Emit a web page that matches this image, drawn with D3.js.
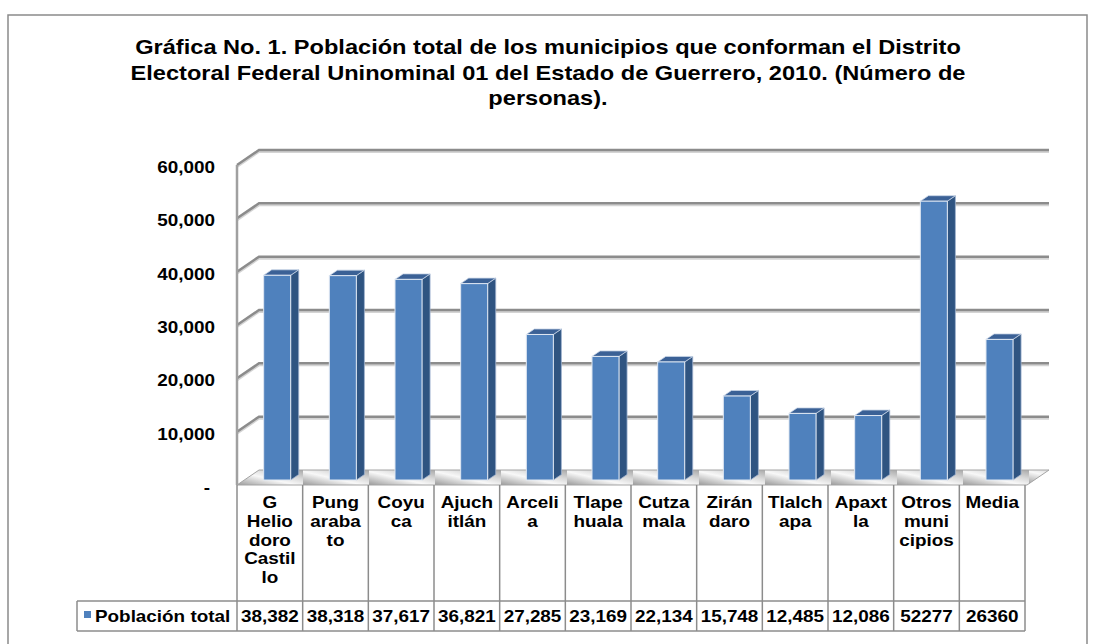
<!DOCTYPE html>
<html><head><meta charset="utf-8">
<script src="https://cdn.jsdelivr.net/npm/d3@7"></script>
<style>body{margin:0;background:#fff}svg{display:block}text{font-family:"Liberation Sans",Arial,sans-serif;font-weight:bold;fill:#000}</style>
</head><body>
<svg id="c" width="1093" height="644"></svg>
<script>
const titleLines = ["Gráfica No. 1. Población total de los municipios que conforman el Distrito",
  "Electoral Federal Uninominal 01 del Estado de Guerrero, 2010. (Número de",
  "personas)."];
const categories = [["G","Helio","doro","Castil","lo"],["Pung","araba","to"],["Coyu","ca"],["Ajuch","itlán"],
  ["Arceli","a"],["Tlape","huala"],["Cutza","mala"],["Zirán","daro"],["Tlalch","apa"],["Apaxt","la"],
  ["Otros","muni","cipios"],["Media"]];
const values = [38382,38318,37617,36821,27285,23169,22134,15748,12485,12086,52277,26360];
const valueLabels = ["38,382","38,318","37,617","36,821","27,285","23,169","22,134","15,748","12,485","12,086","52277","26360"];
const seriesName = "Población total";
const yTicks = [0,10000,20000,30000,40000,50000,60000];
const yTickLabels = ["-","10,000","20,000","30,000","40,000","50,000","60,000"];

const SX = 1.18; // horizontal stretch of the reference's text
const svg = d3.select("#c");
const DX = 22, DY = 15; // depth of the 3D wall (back -> front)
const x = d3.scaleBand().domain(d3.range(categories.length)).range([237,1025]).paddingInner(0).paddingOuter(0);
const y = d3.scaleLinear().domain([0,60000]).range([470,150]);
const bw = x.bandwidth();
const tr = (px,py)=>`translate(${px},${py}) scale(${SX},1)`;

// outer frame
svg.append("rect").attr("x",8).attr("y",15).attr("width",1079).attr("height",640)
  .attr("fill","none").attr("stroke","#8a8a8a").attr("stroke-width",1.5);

// title
svg.append("g").selectAll("text").data(titleLines).join("text")
  .attr("transform",(d,i)=>tr(548,54+i*25.5)).attr("text-anchor","middle")
  .style("font-size","20px").text(d=>d);

const defs = svg.append("defs");
const fp = defs.append("pattern").attr("id","floorpat").attr("patternUnits","userSpaceOnUse").attr("width",66).attr("height",15).attr("x",237).attr("y",470);
fp.append("rect").attr("width",66).attr("height",15).attr("fill","#c4c4c4");
const sg = defs.append("linearGradient").attr("id","streak").attr("x1","0").attr("y1","1").attr("x2","1").attr("y2","0");
[["0","#9a9a9a"],["0.45","#f8f8f8"],["0.7","#d8d8d8"],["1","#a8a8a8"]].forEach(s=>sg.append("stop").attr("offset",s[0]).attr("stop-color",s[1]));
fp.append("rect").attr("width",66).attr("height",15).attr("fill","url(#streak)");

// gridlines (back wall + left side wall)
const grid = svg.append("g");
const gl = yTicks.filter(v=>v>0);
grid.selectAll("path.sh").data(gl).join("path").attr("fill","none").attr("stroke","#d4d4d4").attr("stroke-width",2)
  .attr("d",v=>`M237,${y(v)+DY+2}L${237+DX},${y(v)+2}L1049,${y(v)+2}`);
grid.selectAll("path.gl").data(gl).join("path").attr("fill","none").attr("stroke","#8c8c8c").attr("stroke-width",2.5)
  .attr("d",v=>`M237,${y(v)+DY}L${237+DX},${y(v)}L1049,${y(v)}`);
// vertical axis
svg.append("line").attr("x1",237).attr("x2",237).attr("y1",y(60000)+DY).attr("y2",y(0)+DY)
  .attr("stroke","#a0a0a0").attr("stroke-width",2.5);

// floor
svg.append("path").attr("d",`M${237+DX},${y(0)}L1049,${y(0)}L1027,${y(0)+DY}L237,${y(0)+DY}Z`)
  .attr("fill","url(#floorpat)").attr("stroke","#a4a4a4").attr("stroke-width",1);

// y labels
svg.append("g").selectAll("text").data(yTicks).join("text")
  .attr("transform",(v,i)=>tr(i===0?210:215, y(v)+DY+8)).attr("text-anchor","end")
  .style("font-size","16px").text((d,i)=>yTickLabels[i]);

// bars
const fFront = 10/15, fBack = 4.5/15, half = 13.5;
const bars = svg.append("g").selectAll("g").data(values).join("g");
function geo(v,i){
  const cb = x(i)+bw/2+DX; // center on back wall
  const fx = cb - DX*fFront, fy = DY*fFront;
  const bx = cb - DX*fBack, by = DY*fBack;
  return {l:fx-half, r:fx+half, t:y(v)+fy, b:y(0)+fy, ox:bx-fx, oy:by-fy};
}
bars.append("path").attr("fill","#2f5481").attr("stroke","#9fb3cf").attr("stroke-width",0.8)
  .attr("d",(v,i)=>{const g=geo(v,i);return `M${g.r},${g.t}L${g.r+g.ox},${g.t+g.oy}L${g.r+g.ox},${g.b+g.oy}L${g.r},${g.b}Z`;});
bars.append("path").attr("fill","#3b6196").attr("stroke","#c8d4e6").attr("stroke-width",0.8)
  .attr("d",(v,i)=>{const g=geo(v,i);return `M${g.l},${g.t}L${g.r},${g.t}L${g.r+g.ox},${g.t+g.oy}L${g.l+g.ox},${g.t+g.oy}Z`;});
bars.append("rect").attr("fill","#4f81bd").attr("stroke","#dfe7f2").attr("stroke-width",1)
  .attr("x",(v,i)=>geo(v,i).l).attr("y",(v,i)=>geo(v,i).t)
  .attr("width",half*2).attr("height",(v,i)=>geo(v,i).b-geo(v,i).t);

// data table
const T0 = 485, T1 = 601, T2 = 631, LX = 77;
const tbl = svg.append("g").attr("stroke","#8c8c8c").attr("stroke-width",1.5);
const bounds = d3.range(categories.length+1).map(i=>i<categories.length?x(i):x(categories.length-1)+bw);
tbl.selectAll("line.v").data(bounds).join("line").attr("x1",d=>d).attr("x2",d=>d).attr("y1",T0).attr("y2",T2);
tbl.append("line").attr("x1",LX).attr("x2",1025).attr("y1",T1).attr("y2",T1);
tbl.append("line").attr("x1",LX).attr("x2",1025).attr("y1",T2).attr("y2",T2);
tbl.append("line").attr("x1",LX).attr("x2",LX).attr("y1",T1).attr("y2",T2);

const head = svg.append("g").selectAll("g").data(categories).join("g");
head.each(function(lines,i){
  d3.select(this).selectAll("text").data(lines).join("text")
    .attr("text-anchor","middle").style("font-size","16px")
    .attr("transform",(d,j)=>tr(x(i)+bw/2, 508+j*18.8)).text(d=>d);
});
svg.append("g").selectAll("text").data(valueLabels).join("text")
  .attr("transform",(d,i)=>tr(x(i)+bw/2,622)).attr("text-anchor","middle").style("font-size","16px").text(d=>d);
svg.append("rect").attr("x",84).attr("y",611).attr("width",7).attr("height",7).attr("fill","#4f81bd");
svg.append("text").attr("transform",tr(95,622)).style("font-size","16px").text(seriesName);
</script>
</body></html>
